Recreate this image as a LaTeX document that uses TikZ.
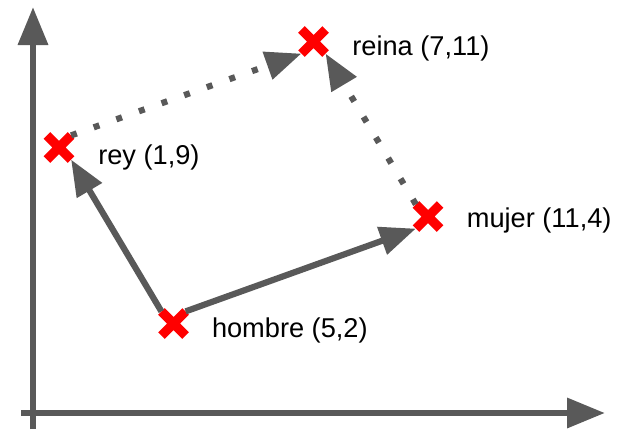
\documentclass[tikz,border=0pt]{standalone}
\usepackage{fontspec}
\setmainfont{Liberation Sans}
\usetikzlibrary{arrows.meta,positioning,shapes.misc}
\definecolor{axis}{HTML}{595959}
\definecolor{cruz}{HTML}{FF0000}

\begin{document}
\begin{tikzpicture}[
  x=0.5pt, y=-0.5pt,
  font=\fontsize{13.6}{16}\selectfont,
  axe/.style={draw=axis, line width=3.25pt, -{Triangle[length=19pt, width=14.5pt]}},
  vec/.style={draw=axis, line width=3.1pt, -{Triangle[length=18pt, width=14pt]}},
  dots/.style={vec, dash pattern=on 3pt off 9pt},
  xmark/.style={cross out, draw=cruz, line width=4.6pt, minimum size=10.3pt, inner sep=0pt, outer sep=0.9pt},
  lbl/.style={inner sep=0pt}
]
\useasboundingbox (0,0) rectangle (621,429);

\coordinate (ybot) at (33,429);
\coordinate (ytop) at (33,7);
\coordinate (xleft) at (21,413);
\coordinate (xright) at (605,413);
\draw[axe] (ybot) -- (ytop);
\draw[axe] (xleft) -- (xright);

\node[xmark] (rey) at (59,147.5) {};
\node[xmark] (reina) at (313.5,41.5) {};
\node[xmark] (mujer) at (428,216.5) {};
\node[xmark] (hombre) at (173.5,323.5) {};

\node[lbl, right=13.4pt of rey, yshift=-4.75pt] (lrey) {rey (1,9)};
\node[lbl, right=13.2pt of reina, yshift=-3.5pt] (lreina) {reina (7,11)};
\node[lbl, right=13.2pt of mujer, yshift=-2pt] (lmujer) {mujer (11,4)};
\node[lbl, right=13pt of hombre, yshift=-3.25pt] (lhombre) {hombre (5,2)};

\draw[vec] (hombre.north west) -- (rey.south east);
\draw[vec] (hombre.north east) -- (mujer.south west);
\draw[dots] (rey.north east) -- (reina.south west);
\draw[dots] (mujer.north west) -- (reina.south east);
\end{tikzpicture}
\end{document}
